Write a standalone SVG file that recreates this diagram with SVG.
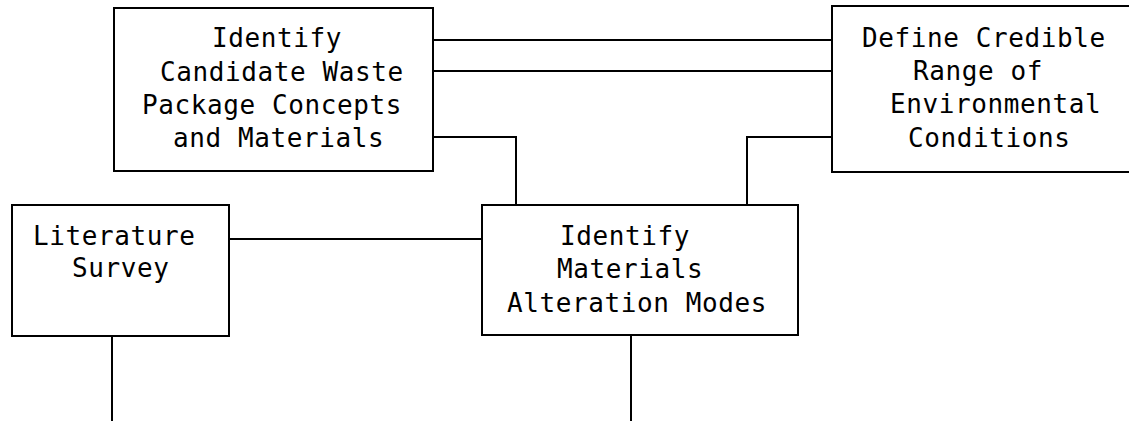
<svg xmlns="http://www.w3.org/2000/svg" width="1129" height="421" viewBox="0 0 1129 421">
<style>
.box{fill:#fff;stroke:#000;stroke-width:2}
.ln{fill:none;stroke:#000;stroke-width:2}
.t{font-family:"DejaVu Sans Mono","Liberation Mono",monospace;font-size:26px;letter-spacing:0.6px;fill:#000}
</style>
<rect width="1129" height="421" fill="#fff"/>
<g id="connectors">
<line class="ln" x1="433" y1="40" x2="832" y2="40"/>
<line class="ln" x1="433" y1="71" x2="832" y2="71"/>
<polyline class="ln" points="433,137 516,137 516,205"/>
<polyline class="ln" points="832,137 747,137 747,205"/>
<line class="ln" x1="229" y1="239" x2="482" y2="239"/>
<line class="ln" x1="112" y1="336" x2="112" y2="421"/>
<line class="ln" x1="631" y1="335" x2="631" y2="421"/>
</g>
<g id="candidate">
<rect class="box" x="114" y="8" width="319" height="163"/>
<text class="t" x="212" y="47">Identify</text>
<text class="t" x="160" y="81">Candidate Waste</text>
<text class="t" x="142" y="114">Package Concepts</text>
<text class="t" x="173" y="147">and Materials</text>
</g>
<g id="environment">
<rect class="box" x="832" y="6" width="310" height="166"/>
<text class="t" x="862" y="47">Define Credible</text>
<text class="t" x="913" y="80">Range of</text>
<text class="t" x="890" y="113">Environmental</text>
<text class="t" x="908" y="147">Conditions</text>
</g>
<g id="literature">
<rect class="box" x="12" y="205" width="217" height="131"/>
<text class="t" x="33" y="245">Literature</text>
<text class="t" x="72" y="277">Survey</text>
</g>
<g id="alteration">
<rect class="box" x="482" y="205" width="316" height="130"/>
<text class="t" x="560" y="245">Identify</text>
<text class="t" x="557" y="278">Materials</text>
<text class="t" x="507" y="312">Alteration Modes</text>
</g>
</svg>
